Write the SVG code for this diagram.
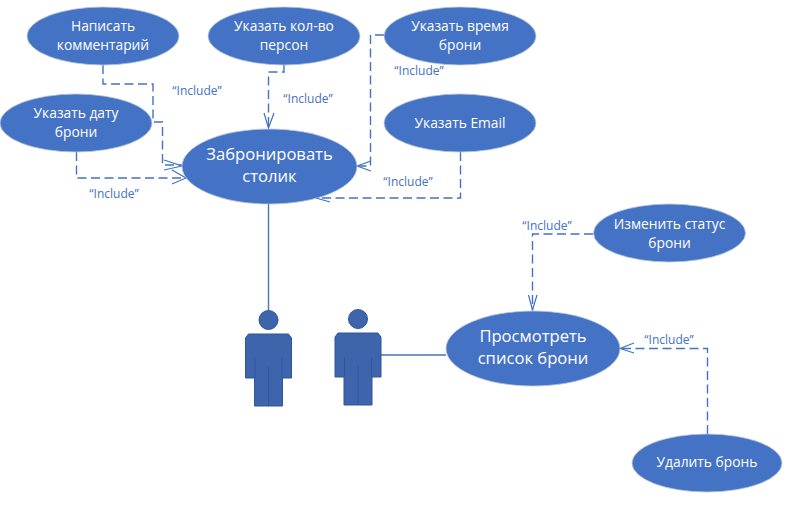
<svg xmlns="http://www.w3.org/2000/svg" width="802" height="508" viewBox="0 0 802 508">
<style>
.uc{fill:#4472c4;stroke:#b9c6dc;stroke-width:.8}
.t{font-family:"Open Sans","Noto Sans",sans-serif;fill:#fff;text-anchor:middle;font-size:13.8px}
.b{font-size:16.6px}
.l{font-family:"Open Sans","Noto Sans",sans-serif;fill:#4472c4;text-anchor:middle;font-size:12px}
.d{fill:none;stroke:#4472c4;stroke-width:1.4;stroke-dasharray:9 4.500}
.s{fill:none;stroke:#4472c4;stroke-width:1.4}
.a{fill:none;stroke:#4472c4;stroke-width:1.2}
.p{fill:#3e64ac;stroke:#2f5597;stroke-width:1}
.in{fill:none;stroke:#2f5597;stroke-width:.9}
</style>
<defs>
<g id="actor">
<circle class="p" cx="0" cy="-14" r="9.500"/>
<path class="p" d="M-20 0 L20 0 L23 4 L23 44 L14 44 L14 72 L-14 72 L-14 44 L-23 44 L-23 4 Z"/>
<path class="in" d="M-13.500 24V44M13.500 24V44M0 33V72"/>
</g>
</defs>
<g id="connectors">
<path class="d" d="M103 65V84H153V122H162.500V165H182"/>
<path class="a" d="M164 160L182 166L164 170"/>
<path class="d" d="M76.500 152V178H185"/>
<path class="a" d="M172 170L186 178L172 184"/>
<path class="d" d="M284 65V72H268.500V128"/>
<path class="a" d="M264 113L268.500 128L274 113"/>
<path class="d" d="M384 35H370.500V166H358"/>
<path class="a" d="M371 161L357 166L371 171"/>
<path class="d" d="M460.500 152V198H316"/>
<path class="a" d="M330 193L316 198L330 202"/>
<path class="s" d="M268.500 204V310"/>
<path class="s" d="M381 355H446"/>
<path class="d" d="M593 234H532.500V310"/>
<path class="a" d="M528.500 295L532.500 310L537 295"/>
<path class="d" d="M707.500 434V348.500H621"/>
<path class="a" d="M634 343L620 348.500L634 353"/>
</g>
<g id="n1"><ellipse class="uc" cx="103" cy="36" rx="76" ry="29"/><text class="t" x="103" y="31">Написать</text><text class="t" x="103" y="50">комментарий</text></g>
<g id="n2"><ellipse class="uc" cx="284" cy="36" rx="76" ry="29"/><text class="t" x="284" y="31">Указать кол-во</text><text class="t" x="284" y="50">персон</text></g>
<g id="n3"><ellipse class="uc" cx="460" cy="36" rx="76" ry="29"/><text class="t" x="460" y="31">Указать время</text><text class="t" x="460" y="50">брони</text></g>
<g id="n4"><ellipse class="uc" cx="76" cy="123" rx="76" ry="29"/><text class="t" x="76" y="118">Указать дату</text><text class="t" x="76" y="137">брони</text></g>
<g id="n5"><ellipse class="uc" cx="460" cy="123" rx="76" ry="29"/><text class="t" x="460" y="128">Указать Email</text></g>
<g id="n6"><ellipse class="uc" cx="269.500" cy="166.500" rx="87.500" ry="37.500"/><text class="t b" x="269.500" y="160">Забронировать</text><text class="t b" x="269.500" y="182">столик</text></g>
<g id="n7"><ellipse class="uc" cx="669.500" cy="233" rx="76" ry="29"/><text class="t" x="669.500" y="229">Изменить статус</text><text class="t" x="669.500" y="248">брони</text></g>
<g id="n8"><ellipse class="uc" cx="533" cy="348.500" rx="87" ry="37.500"/><text class="t b" x="533" y="342">Просмотреть</text><text class="t b" x="533" y="364">список брони</text></g>
<g id="n9"><ellipse class="uc" cx="707" cy="463" rx="75" ry="29"/><text class="t" x="707" y="467">Удалить бронь</text></g>
<g id="a1"><use href="#actor" x="268.500" y="334"/></g>
<g id="a2"><use href="#actor" x="358" y="333"/></g>
<g id="labels">
<text class="l" x="197" y="95">“Include”</text>
<text class="l" x="308" y="103">“Include”</text>
<text class="l" x="419" y="75">“Include”</text>
<text class="l" x="114" y="198">“Include”</text>
<text class="l" x="408" y="186">“Include”</text>
<text class="l" x="547" y="230">“Include”</text>
<text class="l" x="669" y="344">“Include”</text>
</g>
</svg>
